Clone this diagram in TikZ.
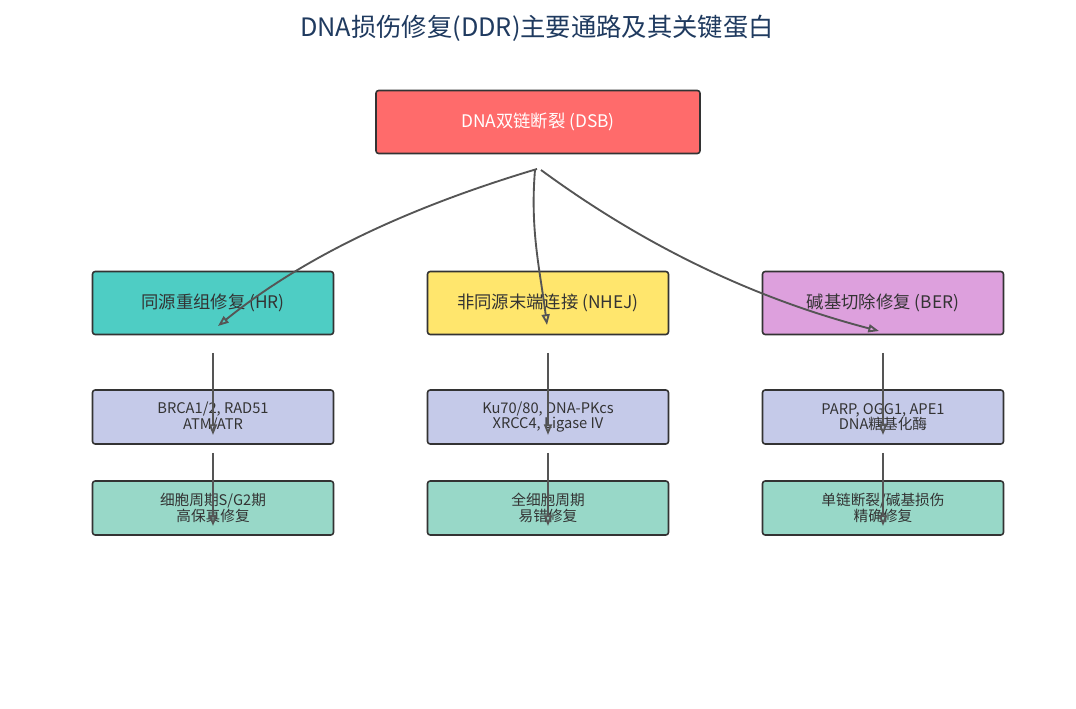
\documentclass[tikz,border=0pt]{standalone}
\usepackage{fontspec}
\setmainfont{Noto Sans CJK SC}
\usetikzlibrary{arrows.meta}
\definecolor{ttl}{HTML}{1F3A5F}
\definecolor{dsb}{HTML}{FF6B6B}
\definecolor{hr}{HTML}{4ECDC4}
\definecolor{nhej}{HTML}{FFE66D}
\definecolor{ber}{HTML}{DDA0DD}
\definecolor{prot}{HTML}{C5CAE9}
\definecolor{feat}{HTML}{98D8C8}
\definecolor{edge}{HTML}{555555}
\tikzset{every picture/.style={line width=0.75pt}}
\tikzset{
  box/.style={draw=black!80, rounded corners=2pt, line width=1.2pt, align=center},
  big/.style={box, minimum width=180.75pt, minimum height=47.25pt, font=\fontsize{13}{15}\selectfont, text=black!80},
  small/.style={box, minimum width=180.75pt, minimum height=40.5pt, font=\fontsize{11}{11.5}\selectfont, text=black!80},
  link/.style={edge, line width=1.4pt, -{Stealth[length=8pt,width=6pt,inset=0pt,open]}},
}
\begin{document}
\begin{tikzpicture}[x=0.75pt,y=0.75pt,yscale=-1,xscale=1]
\useasboundingbox (0,0) rectangle (1076,709);

% Title
\node (title) at (537,28) [text=ttl, font=\fontsize{19}{22}\selectfont] {DNA损伤修复(DDR)主要通路及其关键蛋白};

% Text Node
\node (dsb) at (538,122) [box, fill=dsb, minimum width=243pt, minimum height=47.25pt, text=white, font=\fontsize{13}{15}\selectfont] {DNA双链断裂 (DSB)};

% Text Node
\node (hr) at (213,303) [big, fill=hr] {同源重组修复 (HR)};
\node (nhej) at (548,303) [big, fill=nhej] {非同源末端连接 (NHEJ)};
\node (ber) at (883,303) [big, fill=ber] {碱基切除修复 (BER)};

% Text Node
\node (hrp) at (213,417) [small, fill=prot] {BRCA1/2, RAD51\\ATM/ATR};
\node (nhejp) at (548,417) [small, fill=prot] {Ku70/80, DNA-PKcs\\XRCC4, Ligase IV};
\node (berp) at (883,417) [small, fill=prot] {PARP, OGG1, APE1\\DNA糖基化酶};

% Text Node
\node (hrf) at (213,508) [small, fill=feat] {细胞周期S/G2期\\高保真修复};
\node (nhejf) at (548,508) [small, fill=feat] {全细胞周期\\易错修复};
\node (berf) at (883,508) [small, fill=feat] {单链断裂/碱基损伤\\精确修复};

% Connection
\coordinate (s1) at (537,169);
\coordinate (s2) at (535,170);
\coordinate (s3) at (541,170);
\coordinate (e1) at (218,326);
\coordinate (e2) at (547,325);
\coordinate (e3) at (879,331);
\draw [link] (s1) .. controls (400,210) and (300,260) .. (e1);
\draw [link] (s2) .. controls (530,230) and (540,270) .. (e2);
\draw [link] (s3) .. controls (650,250) and (760,300) .. (e3);

% Connection
\foreach \x/\n in {213/hr,548/nhej,883/ber} {
  \draw [link] (\x,353) -- (\x,435);
  \draw [link] (\x,453) -- (\x,526);
}

\end{tikzpicture}
\end{document}
